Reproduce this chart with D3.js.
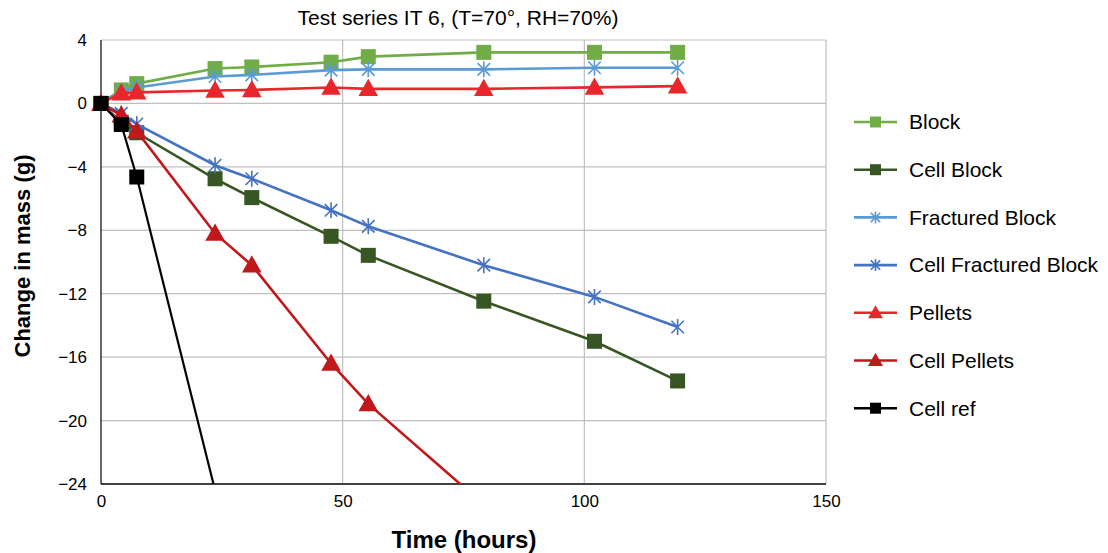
<!DOCTYPE html>
<html><head><meta charset="utf-8">
<script src="https://cdn.jsdelivr.net/npm/d3@7"></script>
<style>body{margin:0;background:#fff}svg{display:block}text{font-family:"Liberation Sans",Arial,sans-serif}</style>
</head><body>
<svg id="c" width="1108" height="553"></svg>
<script>
const hours = [0, 4.2, 7.4, 23.6, 31.2, 47.6, 55.3, 79.2, 102.1, 119.3];
const block = [0, 0.85, 1.25, 2.2, 2.3, 2.6, 2.95, 3.22, 3.22, 3.22];
const cellBlock = [0, -1.2, -1.85, -4.75, -5.94, -8.38, -9.58, -12.47, -15.0, -17.5];
const fracBlock = [0, 0.75, 1.0, 1.7, 1.8, 2.1, 2.15, 2.15, 2.25, 2.25];
const cellFracBlock = [0, -0.63, -1.3, -3.9, -4.75, -6.74, -7.75, -10.2, -12.2, -14.1];
const pellets = [0, 0.65, 0.7, 0.82, 0.85, 1.0, 0.92, 0.92, 1.01, 1.09];
const cellPellets = [0, -0.75, -1.75, -8.2, -10.2, -16.4, -18.95, -25.3, null, null];
const cellRef = [0, -1.33, -4.64, -24.4, null, null, null, null, null, null];
const xTicks = [0, 50, 100, 150];
const yTicks = [4, 0, -4, -8, -12, -16, -20, -24];
const seriesNames = ["Block","Cell Block","Fractured Block","Cell Fractured Block","Pellets","Cell Pellets","Cell ref"];
const seriesValues = [block, cellBlock, fracBlock, cellFracBlock, pellets, cellPellets, cellRef];
const seriesColors = ["#70AD47","#375623","#5B9BD5","#4472C4","#E8262B","#C0181B","#000000"];
const seriesMarkers = ["square","square","star","star","triangle","triangle","square"];
const titleText = "Test series IT 6, (T=70°, RH=70%)";

const svg = d3.select("#c");
const L = 101, R = 826, T = 40, B = 484;
const x = d3.scaleLinear().domain([0,150]).range([L,R]);
const y = d3.scaleLinear().domain([-24,4]).range([B,T]);

svg.append("defs").append("clipPath").attr("id","pc")
  .append("rect").attr("x",L).attr("y",T).attr("width",R-L).attr("height",B-T);

// grid
svg.append("g").selectAll("line").data(yTicks.filter(v=>v!==-24)).join("line")
  .attr("x1",L).attr("x2",R).attr("y1",d=>y(d)).attr("y2",d=>y(d))
  .attr("stroke","#bfbfbf").attr("stroke-width",1.2);
svg.append("g").selectAll("line").data(xTicks.filter(v=>v!==0)).join("line")
  .attr("x1",d=>x(d)).attr("x2",d=>x(d)).attr("y1",T).attr("y2",B)
  .attr("stroke","#bfbfbf").attr("stroke-width",1.2);

// axes
const yAxis = d3.axisLeft(y).tickValues(yTicks).tickSize(0).tickPadding(14)
  .tickFormat(d => d < 0 ? "\u2212" + Math.abs(d) : d);
const gy = svg.append("g").attr("transform",`translate(${L},0)`).call(yAxis);
gy.select(".domain").remove();
gy.selectAll("text").attr("font-size",17).attr("fill","#000").attr("font-family","Liberation Sans, Arial");
const xAxis = d3.axisBottom(x).tickValues(xTicks).tickSize(0).tickPadding(11);
const gx = svg.append("g").attr("transform",`translate(0,${B})`).call(xAxis);
gx.select(".domain").remove();
gx.selectAll("text").attr("font-size",17).attr("fill","#000").attr("font-family","Liberation Sans, Arial");

svg.append("line").attr("x1",L).attr("x2",R).attr("y1",B).attr("y2",B).attr("stroke","#404040").attr("stroke-width",1.8);
svg.append("line").attr("x1",L).attr("x2",L).attr("y1",T).attr("y2",B).attr("stroke","#000").attr("stroke-width",1.2);

// marker drawing
function drawMarker(g, type, cx, cy, color, s) {
  if (type === "square") {
    g.append("rect").attr("x",cx-s/2).attr("y",cy-s/2).attr("width",s).attr("height",s).attr("fill",color);
  } else if (type === "triangle") {
    const h = s*0.95, w = s*1.15;
    g.append("path").attr("d",`M${cx},${cy-h*0.62}L${cx+w/2},${cy+h*0.45}L${cx-w/2},${cy+h*0.45}Z`).attr("fill",color);
  } else {
    const r = s/2;
    const d = `M${cx},${cy-r}L${cx},${cy+r}M${cx-r*0.78},${cy-r*0.78}L${cx+r*0.78},${cy+r*0.78}M${cx-r*0.78},${cy+r*0.78}L${cx+r*0.78},${cy-r*0.78}`;
    g.append("path").attr("d",d).attr("stroke",color).attr("stroke-width",1.6).attr("fill","none");
  }
}

const line = d3.line().defined(d=>d[1]!==null).x(d=>x(d[0])).y(d=>y(d[1]));
seriesValues.forEach((vals,i) => {
  const pts = hours.map((h,j)=>[h, vals[j]]);
  const g = svg.append("g");
  g.append("path").attr("d",line(pts)).attr("fill","none").attr("stroke",seriesColors[i])
    .attr("stroke-width", i===6 ? 2.2 : 2.6).attr("clip-path","url(#pc)");
  pts.filter(p=>p[1]!==null && p[1]>=-24 && p[1]<=4).forEach(p=>{
    drawMarker(g, seriesMarkers[i], x(p[0]), y(p[1]), seriesColors[i], seriesMarkers[i]==="star"?16:(seriesMarkers[i]==="triangle"?17:15));
  });
});

// legend
const lg = svg.append("g");
seriesNames.forEach((n,i)=>{
  const yy = 122 + i*47.7;
  lg.append("line").attr("x1",854).attr("x2",897).attr("y1",yy).attr("y2",yy).attr("stroke",seriesColors[i]).attr("stroke-width",2.6);
  drawMarker(lg, seriesMarkers[i], 875.5, yy, seriesColors[i], seriesMarkers[i]==="star"?12:(seriesMarkers[i]==="triangle"?13:11));
  lg.append("text").attr("x",909).attr("y",yy).attr("dy","0.35em").attr("font-size",21).attr("fill","#000").text(n);
});

// titles
svg.append("text").attr("x",458).attr("y",25).attr("text-anchor","middle").attr("font-size",21).attr("fill","#000").text(titleText);
svg.append("text").attr("x",464).attr("y",548).attr("text-anchor","middle").attr("font-size",24).attr("font-weight","bold").attr("fill","#000").text("Time (hours)");
svg.append("text").attr("transform","translate(30,256) rotate(-90)").attr("text-anchor","middle").attr("font-size",22).attr("font-weight","bold").attr("fill","#000").text("Change in mass (g)");
</script>
</body></html>
